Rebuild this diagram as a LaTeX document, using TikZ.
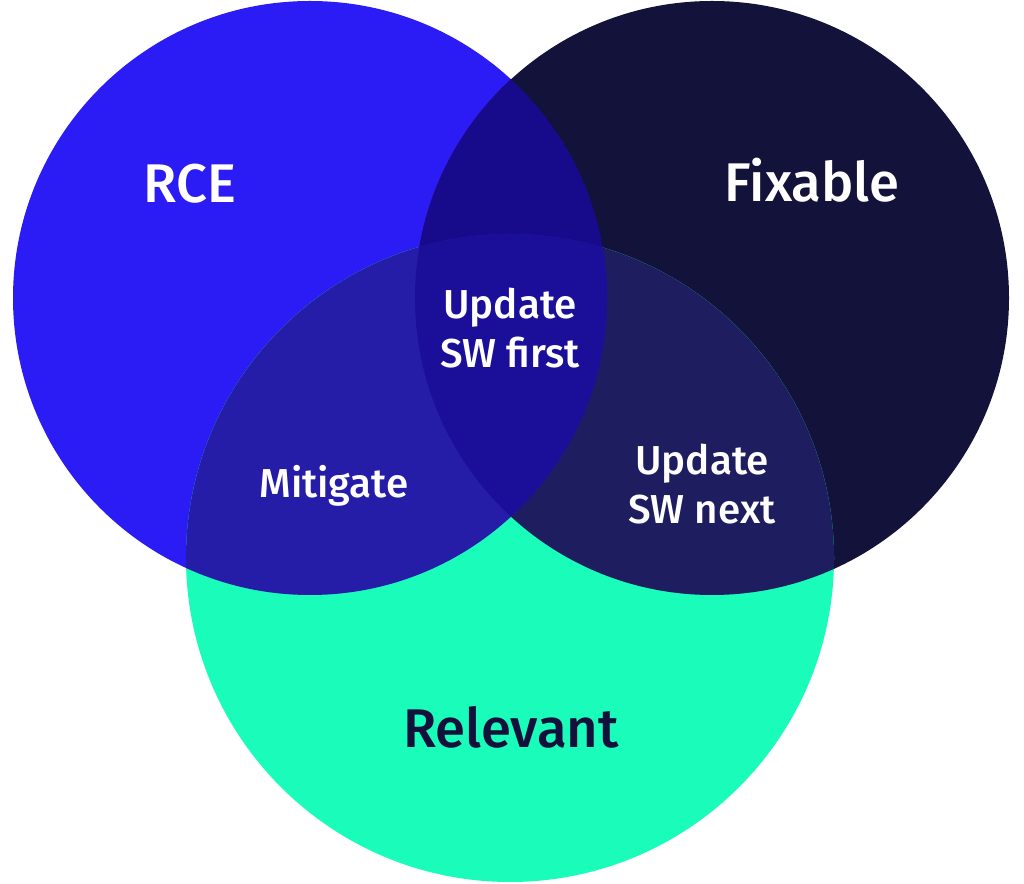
\documentclass[tikz,border=0pt]{standalone}
\usepackage{fontspec}
\setmainfont{Fira Sans}[BoldFont={Fira Sans Medium}]
\definecolor{rcecol}{HTML}{2B1BF5}
\definecolor{fixcol}{HTML}{12123A}
\definecolor{relcol}{HTML}{1AFCBA}
\definecolor{rcefix}{HTML}{170B8C}
\definecolor{rcerel}{HTML}{251DA8}
\definecolor{fixrel}{HTML}{1E1D5F}
\definecolor{allthree}{HTML}{1B0F99}
\definecolor{navytext}{HTML}{14103C}
\begin{document}
\begin{tikzpicture}[
    x=0.02cm, y=-0.02cm,
    biglabel/.style={font=\fontsize{31}{36}\selectfont\bfseries, text=white, anchor=base},
    smalllabel/.style={font=\fontsize{23}{27.9}\selectfont\bfseries, text=white, align=center}
]
    \useasboundingbox (0,0) rectangle (1024,884);

    % circle centres
    \coordinate (rce) at (310,298);
    \coordinate (fix) at (712,298);
    \coordinate (rel) at (510,558);

    % the three sets
    \fill[rcecol] (rce) circle[radius=297];
    \fill[fixcol] (fix) circle[radius=297];
    \fill[relcol] (rel) circle[radius=324];

    % overlaps
    \begin{scope}
        \clip (fix) circle[radius=297];
        \fill[fixrel] (rel) circle[radius=324];
    \end{scope}
    \begin{scope}
        \clip (rce) circle[radius=297];
        \fill[rcefix] (fix) circle[radius=297];
        \fill[rcerel] (rel) circle[radius=324];
        \clip (fix) circle[radius=297];
        \fill[allthree] (rel) circle[radius=324];
    \end{scope}

    % labels
    \node[biglabel] (rcelabel) at (190,203) {RCE};
    \node[biglabel] (fixlabel) at (812,202) {Fixable};
    \node[biglabel, text=navytext] (rellabel) at (511,747) {Relevant};
    \node[smalllabel, anchor=base] (mitlabel) at (334,498) {Mitigate};
    \node[smalllabel] (firstlabel) at (510,328) {Update\\SW first};
    \node[smalllabel] (nextlabel) at (702,484) {Update\\SW next};
\end{tikzpicture}
\end{document}
